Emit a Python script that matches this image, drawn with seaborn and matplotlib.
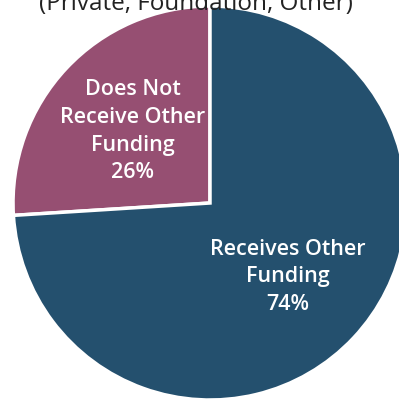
import matplotlib
matplotlib.use("Agg")
import matplotlib.pyplot as plt
import seaborn as sns

sns.set_theme(style="white")
plt.rcParams['font.family'] = ['Open Sans', 'DejaVu Sans']

# Data
title = "(Private, Foundation, Other)"
labels = ["Does Not\nReceive Other\nFunding", "Receives Other\nFunding"]
shares = [26, 74]
colors = ["#964F72", "#24506E"]

fig = plt.figure(figsize=(3.99, 4.02), dpi=100)
# pie is larger than the canvas on the right, like the source crop
ax = fig.add_axes([0.0326, 0.0025, 0.9875, 0.980])

def make_label(pct, it=iter(labels)):
    return f"{next(it)}\n{pct:.0f}%"

wedges, texts, autotexts = ax.pie(
    shares, colors=colors, startangle=90, counterclock=True,
    autopct=make_label, pctdistance=0.54,
    wedgeprops=dict(edgecolor="white", linewidth=2.5),
    textprops=dict(color="white", fontsize=15.5, fontweight="semibold",
                   linespacing=1.42, ha="center", va="center"))
ax.set_xlim(-1, 1)
ax.set_ylim(-1, 1)
ax.set_aspect("equal")

fig.text(0.49, 0.99, title, ha="center", va="center", fontsize=17.5, color="#222222")

plt.savefig("out.png", dpi=100)
